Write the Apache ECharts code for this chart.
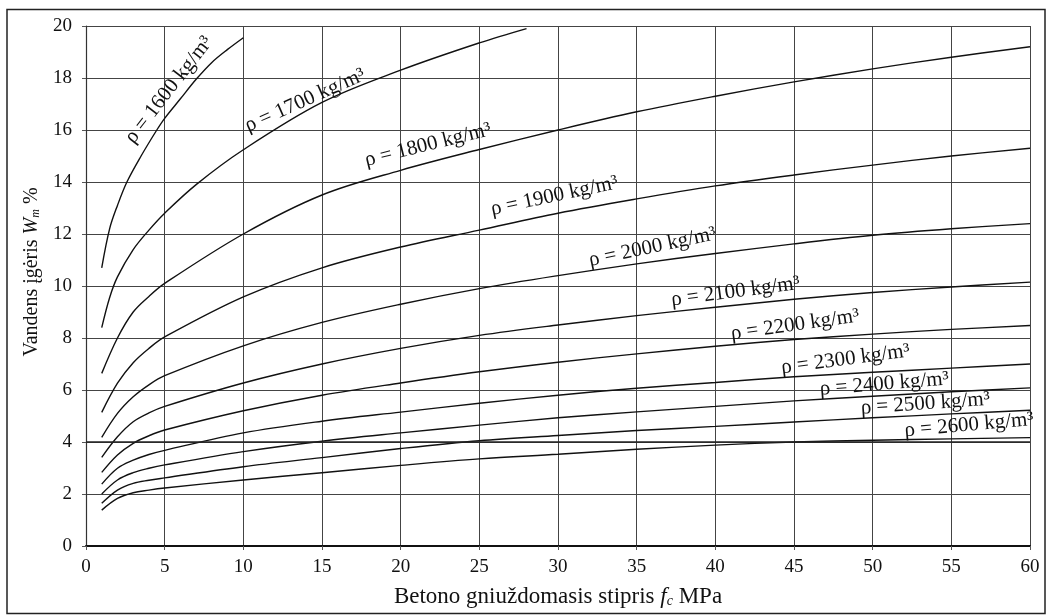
<!DOCTYPE html>
<html>
<head>
<meta charset="utf-8">
<script src="https://cdn.jsdelivr.net/npm/echarts@6/dist/echarts.min.js"></script>
<style>
html,body{margin:0;padding:0;background:#fff;}
#chart{width:1049px;height:615px;}
</style>
</head>
<body>
<div id="chart"></div>
<script>
// ---- data ----
const fc1600 = [1, 1.5, 2, 2.6, 3.5, 4.5, 5, 6, 7, 8, 9, 10];
const w1600  = [10.7, 12.2, 13.1, 14.0, 15.0, 16.0, 16.45, 17.2, 17.95, 18.6, 19.1, 19.55];
const fc1700 = [1, 1.5, 2, 3, 4, 5, 7, 10, 15, 20, 25, 28];
const w1700  = [8.4, 9.55, 10.35, 11.4, 12.15, 12.8, 13.9, 15.24, 17.06, 18.3, 19.35, 19.9];
const fcCommon = [1, 2, 3, 4, 5, 10, 15, 20, 25, 30, 35, 40, 45, 50, 55, 60];
const w1800 = [6.64, 8.0, 9.0, 9.6, 10.1, 12.0, 13.5, 14.45, 15.25, 16.0, 16.7, 17.3, 17.85, 18.35, 18.8, 19.2];
const w1900 = [5.14, 6.26, 7.05, 7.6, 8.04, 9.58, 10.7, 11.5, 12.15, 12.8, 13.35, 13.85, 14.27, 14.65, 15.0, 15.3];
const w2000 = [4.18, 5.1, 5.74, 6.2, 6.55, 7.7, 8.6, 9.3, 9.9, 10.4, 10.85, 11.25, 11.62, 11.95, 12.2, 12.4];
const w2100 = [3.41, 4.2, 4.78, 5.12, 5.37, 6.27, 7.0, 7.6, 8.1, 8.5, 8.86, 9.18, 9.49, 9.75, 9.96, 10.15];
const w2200 = [2.83, 3.5, 3.95, 4.24, 4.46, 5.2, 5.8, 6.27, 6.7, 7.07, 7.39, 7.68, 7.94, 8.15, 8.33, 8.48];
const w2300 = [2.38, 2.99, 3.3, 3.52, 3.68, 4.35, 4.8, 5.15, 5.49, 5.8, 6.07, 6.29, 6.51, 6.68, 6.84, 7.0];
const w2400 = [2.0, 2.54, 2.82, 2.99, 3.12, 3.63, 4.03, 4.35, 4.65, 4.93, 5.16, 5.37, 5.58, 5.76, 5.93, 6.08];
const w2500 = [1.64, 2.15, 2.41, 2.53, 2.62, 3.05, 3.4, 3.75, 4.05, 4.25, 4.44, 4.6, 4.77, 4.93, 5.08, 5.22];
const w2600 = [1.38, 1.83, 2.05, 2.15, 2.23, 2.54, 2.82, 3.1, 3.35, 3.53, 3.72, 3.88, 4.0, 4.07, 4.12, 4.17];
const densities = [1600, 1700, 1800, 1900, 2000, 2100, 2200, 2300, 2400, 2500, 2600];
const xTicks = [0, 5, 10, 15, 20, 25, 30, 35, 40, 45, 50, 55, 60];
const yTicks = [0, 2, 4, 6, 8, 10, 12, 14, 16, 18, 20];
const xTitle = ['Betono gniuždomasis stipris ', 'f', 'c', ' MPa'];
const yTitle = ['Vandens įgėris ', 'W', 'm', ' %'];

// ---- layout / style (not data) ----
const FONT = "'Liberation Serif', 'Times New Roman', serif";
const labelLayout = [
  {fc: 6.0,  gap: 4, rot: 52},
  {fc: 14.2, gap: 0, rot: 24},
  {fc: 22,   gap: 7, rot: 14},
  {fc: 30,   gap: 7, rot: 12},
  {fc: 36.2, gap: 4, rot: 12},
  {fc: 41.4, gap: 3, rot: 7.5},
  {fc: 45.2, gap: 4, rot: 8},
  {fc: 48.4, gap: 4, rot: 7.5},
  {fc: 50.8, gap: 1, rot: 4.6},
  {fc: 53.4, gap: 1, rot: 4},
  {fc: 56.2, gap: 3, rot: 5}
];

const curveX = [fc1600, fc1700, fcCommon, fcCommon, fcCommon, fcCommon, fcCommon, fcCommon, fcCommon, fcCommon, fcCommon];
const curveY = [w1600, w1700, w1800, w1900, w2000, w2100, w2200, w2300, w2400, w2500, w2600];

const pairs = (xs, ys) => xs.map((x, i) => [x, ys[i]]);

const series = densities.map((d, i) => {
  const s = {
    name: 'ρ = ' + d + ' kg/m³',
    type: 'line',
    data: pairs(curveX[i], curveY[i]),
    smooth: 0.35,
    showSymbol: false,
    silent: true,
    lineStyle: {color: '#111', width: 1.4},
    z: 3
  };
  if (i === 0) {
    s.markLine = {
      silent: true, symbol: 'none', label: {show: false},
      lineStyle: {color: '#222', width: 1.7, type: 'solid'},
      data: [{yAxis: yTicks[2]}]
    };
  }
  return s;
});

const chart = echarts.init(document.getElementById('chart'), null, {renderer: 'canvas'});

const richTitle = (parts) => '{t|' + parts[0] + '}{i|' + parts[1] + '}{s|' + parts[2] + '}{t|' + parts[3] + '}';
const mkRich = (fs) => ({
  t: {fontFamily: FONT, fontSize: fs, color: '#111'},
  i: {fontFamily: FONT, fontSize: fs, color: '#111', fontStyle: 'italic'},
  s: {fontFamily: FONT, fontSize: Math.round(fs * 0.6), color: '#111', fontStyle: 'italic', verticalAlign: 'bottom', padding: [8, 0, 0, 0]}
});

chart.setOption({
  animation: false,
  backgroundColor: '#fff',
  grid: {left: 86, right: 19, top: 26, bottom: 69, containLabel: false},
  xAxis: {
    type: 'value', min: xTicks[0], max: xTicks[xTicks.length - 1], interval: 5,
    name: richTitle(xTitle), nameLocation: 'middle', nameGap: 39,
    nameTextStyle: {fontFamily: FONT, fontSize: 23, color: '#111', rich: mkRich(23)},
    axisLine: {show: true, lineStyle: {color: '#111', width: 2}},
    axisTick: {show: true, inside: false, length: 4, lineStyle: {color: '#555'}},
    axisLabel: {fontFamily: FONT, fontSize: 19, color: '#111', margin: 12},
    splitLine: {show: true, lineStyle: {color: '#444', width: 1}}
  },
  yAxis: {
    type: 'value', min: yTicks[0], max: yTicks[yTicks.length - 1], interval: 2,
    name: richTitle(yTitle), nameLocation: 'middle', nameGap: 44, nameRotate: 90,
    nameTextStyle: {fontFamily: FONT, fontSize: 20, color: '#111', rich: mkRich(20), padding: [0, 0, 0, 28]},
    axisLine: {show: true, lineStyle: {color: '#333', width: 1.2}},
    axisTick: {show: true, inside: false, length: 4, lineStyle: {color: '#555'}},
    axisLabel: {fontFamily: FONT, fontSize: 19, color: '#111', margin: 14},
    splitLine: {show: true, lineStyle: {color: '#444', width: 1}}
  },
  series: series
});

function interp(xs, ys, x) {
  for (let k = 0; k < xs.length - 1; k++) {
    if (x >= xs[k] && x <= xs[k + 1]) {
      const t = (x - xs[k]) / (xs[k + 1] - xs[k]);
      return ys[k] + t * (ys[k + 1] - ys[k]);
    }
  }
  return ys[ys.length - 1];
}

const graphics = [{
  type: 'rect', silent: true, z: 0,
  shape: {x: 7, y: 9.5, width: 1038, height: 604},
  style: {fill: 'none', stroke: '#222', lineWidth: 1.5}
}];

densities.forEach((d, i) => {
  const L = labelLayout[i];
  const v = interp(curveX[i], curveY[i], L.fc);
  const p = chart.convertToPixel({gridIndex: 0}, [L.fc, v]);
  graphics.push({
    type: 'text', silent: true, z: 10,
    x: p[0], y: p[1], rotation: L.rot * Math.PI / 180,
    style: {
      text: 'ρ = ' + d + ' kg/m³',
      x: 0, y: -L.gap,
      font: '21px ' + FONT,
      fill: '#111',
      align: 'center', verticalAlign: 'bottom',
      textAlign: 'center', textVerticalAlign: 'bottom'
    }
  });
});

chart.setOption({graphic: graphics});
</script>
</body>
</html>
